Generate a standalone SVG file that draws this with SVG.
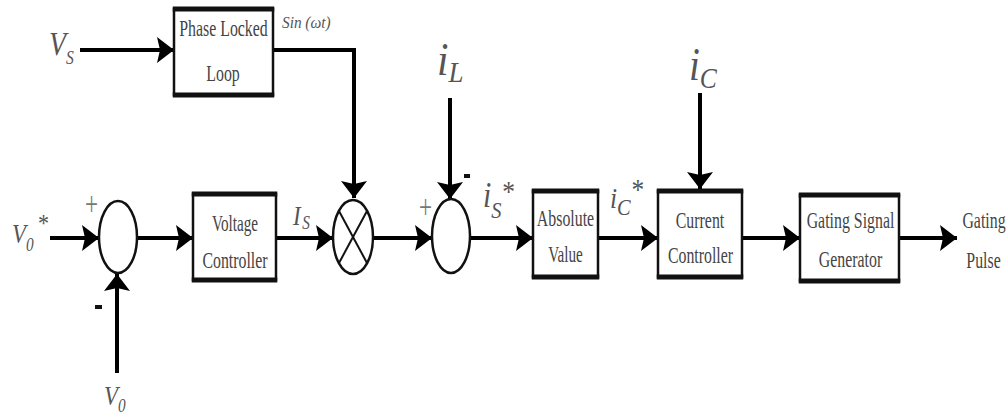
<svg xmlns="http://www.w3.org/2000/svg" width="1008" height="417" viewBox="0 0 1008 417">
  <style>
    .wire { fill: none; stroke: #000; stroke-width: 4; }
    .frame { fill: #fff; stroke: #111; stroke-width: 2.5; }
    .bar { stroke: #111; stroke-width: 5; }
    .junction { fill: #fff; stroke: #111; stroke-width: 2.5; }
    .cross { stroke: #111; stroke-width: 2; }
    .blk { font-family: "Liberation Serif", "Times New Roman", serif; font-size: 23px; fill: #444; text-anchor: middle; }
    .math { font-family: "Liberation Serif", "Times New Roman", serif; font-style: italic; fill: #555; }
    .up { font-style: normal; }
    .sym { font-family: "Liberation Serif", "Times New Roman", serif; fill: #777; font-size: 34px; }
  </style>
  <defs>
    <marker id="head" markerUnits="userSpaceOnUse" markerWidth="20" markerHeight="28" refX="17" refY="13" orient="auto">
      <path d="M0,0 L17,13 L0,26 L3,13 Z" fill="#000"/>
    </marker>
  </defs>

  <rect width="1008" height="417" fill="#fff"/>

  <!-- signal lines -->
  <g id="connectors">
    <path class="wire" d="M80,50 H174" marker-end="url(#head)"/>
    <path class="wire" d="M273,50 H354 V198" marker-end="url(#head)"/>
    <path class="wire" d="M50,238 H99" marker-end="url(#head)"/>
    <path class="wire" d="M117,373 V274" marker-end="url(#head)"/>
    <path class="wire" d="M138,238 H193" marker-end="url(#head)"/>
    <path class="wire" d="M276,238 H333" marker-end="url(#head)"/>
    <path class="wire" d="M373,238 H432" marker-end="url(#head)"/>
    <path class="wire" d="M450,98 V199" marker-end="url(#head)"/>
    <path class="wire" d="M470,238 H533" marker-end="url(#head)"/>
    <path class="wire" d="M598,238 H658" marker-end="url(#head)"/>
    <path class="wire" d="M700,93 V189" marker-end="url(#head)"/>
    <path class="wire" d="M742,238 H800" marker-end="url(#head)"/>
    <path class="wire" d="M899,238 H957" marker-end="url(#head)"/>
  </g>

  <!-- inputs -->
  <g id="in-vs">
    <text class="math" transform="translate(49,55) scale(0.82,1)" font-size="34">V<tspan font-size="19" dx="0" dy="9">S</tspan></text>
  </g>
  <g id="in-vo-ref">
    <text class="math" transform="translate(12,243) scale(0.85,1)" font-size="27">V<tspan font-size="18" dy="8">0</tspan><tspan class="up" font-size="26" dx="5" dy="-19">*</tspan></text>
  </g>
  <g id="in-vo">
    <text class="math" transform="translate(104,405) scale(0.85,1)" font-size="27">V<tspan font-size="18" dy="7">0</tspan></text>
  </g>
  <g id="in-il">
    <text class="math" transform="translate(437,75) scale(0.9,1)" font-size="46">i<tspan font-size="30" dy="7">L</tspan></text>
  </g>
  <g id="in-ic">
    <text class="math" transform="translate(689,80) scale(0.85,1)" font-size="46">i<tspan font-size="30" dy="8">C</tspan></text>
  </g>

  <!-- phase locked loop -->
  <g id="pll">
    <rect class="frame" x="174" y="9" width="99" height="86"/>
    <line class="bar" x1="172.75" y1="9" x2="274.25" y2="9"/>
    <line class="bar" x1="172.75" y1="95" x2="274.25" y2="95"/>
    <text class="blk" transform="translate(223.5,36) scale(0.69,1)">Phase Locked</text>
    <text class="blk" transform="translate(223,81) scale(0.69,1)">Loop</text>
    <text class="math" transform="translate(282,28) scale(0.9,1)" font-size="17" fill="#777">Sin (ωt)</text>
  </g>

  <!-- voltage error junction -->
  <g id="sum-voltage">
    <ellipse class="junction" cx="118" cy="237" rx="19" ry="36"/>
    <text class="sym" transform="translate(85,215) scale(0.68,1)">+</text>
    <line stroke="#111" stroke-width="4" x1="95" y1="307" x2="102" y2="307"/>
  </g>

  <!-- voltage controller -->
  <g id="voltage-controller">
    <rect class="frame" x="193" y="194" width="83" height="86"/>
    <line class="bar" x1="191.75" y1="194" x2="277.25" y2="194"/>
    <line class="bar" x1="191.75" y1="280" x2="277.25" y2="280"/>
    <text class="blk" transform="translate(235,231) scale(0.66,1)">Voltage</text>
    <text class="blk" transform="translate(235,268) scale(0.69,1)">Controller</text>
  </g>
  <g id="lbl-is">
    <text class="math" transform="translate(293,225) scale(0.85,1)" font-size="27">I<tspan font-size="18" dx="2" dy="4">S</tspan></text>
  </g>

  <!-- multiplier -->
  <g id="multiplier">
    <ellipse class="junction" cx="353" cy="237" rx="20" ry="37"/>
    <line class="cross" x1="339" y1="211" x2="367" y2="263"/>
    <line class="cross" x1="367" y1="211" x2="339" y2="263"/>
  </g>

  <!-- current error junction -->
  <g id="sum-current">
    <ellipse class="junction" cx="451" cy="236" rx="19" ry="37"/>
    <text class="sym" transform="translate(419,218) scale(0.68,1)">+</text>
    <line stroke="#111" stroke-width="4" x1="464" y1="176" x2="470" y2="176"/>
  </g>
  <g id="lbl-is-ref">
    <text class="math" transform="translate(483,207) scale(0.85,1)" font-size="35">i<tspan font-size="24" dy="11">S</tspan><tspan class="up" font-size="30" dx="1" dy="-17">*</tspan></text>
  </g>

  <!-- absolute value -->
  <g id="absolute-value">
    <rect class="frame" x="533" y="191" width="65" height="86"/>
    <line class="bar" x1="531.75" y1="191" x2="599.25" y2="191"/>
    <line class="bar" x1="531.75" y1="277" x2="599.25" y2="277"/>
    <text class="blk" transform="translate(565.5,226) scale(0.69,1)">Absolute</text>
    <text class="blk" transform="translate(565.5,262) scale(0.66,1)">Value</text>
  </g>
  <g id="lbl-ic-ref">
    <text class="math" transform="translate(610,208) scale(0.85,1)" font-size="30">i<tspan font-size="24" dy="7">C</tspan><tspan class="up" font-size="30" dx="1" dy="-16">*</tspan></text>
  </g>

  <!-- current controller -->
  <g id="current-controller">
    <rect class="frame" x="658" y="191" width="84" height="86"/>
    <line class="bar" x1="656.75" y1="191" x2="743.25" y2="191"/>
    <line class="bar" x1="656.75" y1="277" x2="743.25" y2="277"/>
    <text class="blk" transform="translate(700,228) scale(0.69,1)">Current</text>
    <text class="blk" transform="translate(700.5,263) scale(0.69,1)">Controller</text>
  </g>

  <!-- gating signal generator -->
  <g id="gating-generator">
    <rect class="frame" x="800" y="195" width="99" height="86"/>
    <line class="bar" x1="798.75" y1="195" x2="900.25" y2="195"/>
    <line class="bar" x1="798.75" y1="281" x2="900.25" y2="281"/>
    <text class="blk" transform="translate(850.5,228) scale(0.69,1)">Gating Signal</text>
    <text class="blk" transform="translate(850.5,267) scale(0.69,1)">Generator</text>
  </g>

  <!-- output -->
  <g id="out-pulse">
    <text class="blk" transform="translate(984,228) scale(0.69,1)">Gating</text>
    <text class="blk" transform="translate(983.5,268) scale(0.69,1)">Pulse</text>
  </g>
</svg>
